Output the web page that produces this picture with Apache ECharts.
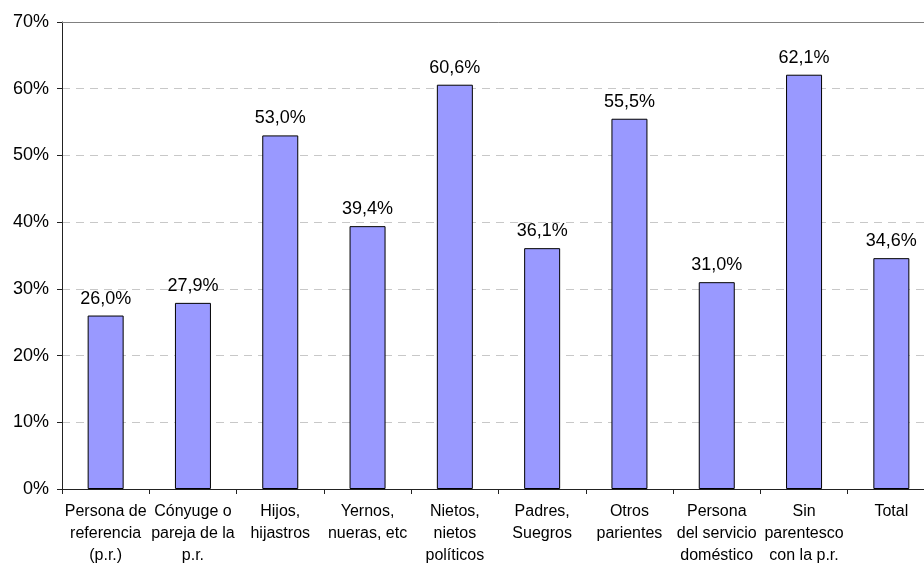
<!DOCTYPE html>
<html>
<head>
<meta charset="utf-8">
<script src="https://cdn.jsdelivr.net/npm/echarts@6/dist/echarts.min.js"></script>
<style>
  html, body { margin: 0; padding: 0; overflow: hidden; background: #fff; }
  #chart { width: 936px; height: 567px; }
</style>
</head>
<body>
<div id="chart"></div>
<script>
// Household relationship categories (line breaks as printed under the axis)
const categories = [
  'Persona de\nreferencia\n(p.r.)',
  'Cónyuge o\npareja de la\np.r.',
  'Hijos,\nhijastros',
  'Yernos,\nnueras, etc',
  'Nietos,\nnietos\npolíticos',
  'Padres,\nSuegros',
  'Otros\nparientes',
  'Persona\ndel servicio\ndoméstico',
  'Sin\nparentesco\ncon la p.r.',
  'Total'
];
// Percentage per category
const values = [26.0, 27.9, 53.0, 39.4, 60.6, 36.1, 55.5, 31.0, 62.1, 34.6];
// Value-axis range and step
const yMin = 0;
const yMax = 70;
const yStep = 10;

const FONT = '"Liberation Sans", Arial, sans-serif';
const fmt = v => v.toFixed(1).replace('.', ',') + '%';

const chart = echarts.init(document.getElementById('chart'), null, { renderer: 'canvas' });
chart.setOption({
  animation: false,
  backgroundColor: '#ffffff',
  textStyle: { fontFamily: FONT },
  grid: { left: 62, right: 1, top: 22, bottom: 77, containLabel: false },
  xAxis: [
    {
      type: 'category',
      data: categories,
      boundaryGap: true,
      axisLine: { show: true, lineStyle: { color: '#222', width: 1 } },
      axisTick: { show: true, length: 5, lineStyle: { color: '#222' } },
      axisLabel: {
        interval: 0,
        margin: 12,
        color: '#000',
        fontFamily: FONT,
        fontSize: 16,
        lineHeight: 22,
        align: 'center'
      },
      splitLine: { show: false }
    },
    {
      // thin frame line along the top of the plot
      type: 'category',
      position: 'top',
      data: categories,
      axisLine: { show: true, lineStyle: { color: '#808080', width: 1 } },
      axisTick: { show: false },
      axisLabel: { show: false },
      splitLine: { show: false }
    }
  ],
  yAxis: {
    type: 'value',
    min: yMin,
    max: yMax,
    interval: yStep,
    axisLine: { show: true, lineStyle: { color: '#222', width: 1 } },
    axisTick: { show: true, length: 5, inside: false, lineStyle: { color: '#222' } },
    axisLabel: {
      formatter: '{value}%',
      color: '#000',
      fontFamily: FONT,
      fontSize: 18,
      margin: 13
    },
    splitLine: {
      show: true,
      lineStyle: { color: '#c8c8c8', type: [8, 6], width: 1 }
    }
  },
  series: [{
    type: 'bar',
    xAxisIndex: 0,
    data: values,
    barWidth: 36,
    itemStyle: { color: '#9999ff', borderColor: '#000', borderWidth: 1 },
    label: {
      show: true,
      position: 'top',
      distance: 8,
      color: '#000',
      fontFamily: FONT,
      fontSize: 18,
      formatter: p => fmt(p.value)
    }
  }]
});
</script>
</body>
</html>
